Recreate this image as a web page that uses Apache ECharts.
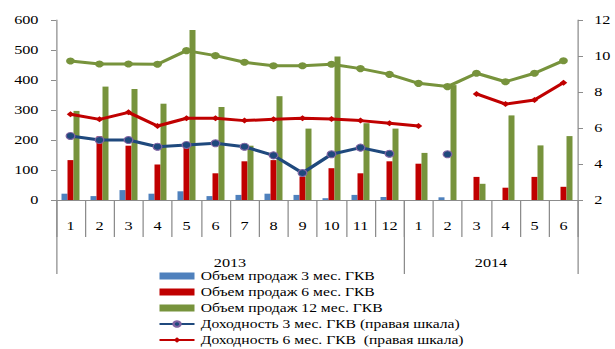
<!DOCTYPE html>
<html>
<head>
<meta charset="utf-8">
<script src="https://cdn.jsdelivr.net/npm/echarts@6/dist/echarts.min.js"></script>
<style>
  html, body { margin: 0; padding: 0; background: #fff; overflow: hidden; }
  /* the chart is laid out narrower and widened horizontally */
  #wrap { width: 615px; height: 349px; overflow: hidden; }
  #chart { width: 492px; height: 349px; transform: scaleX(1.25); transform-origin: 0 0; }
</style>
</head>
<body>
<div id="wrap"><div id="chart"></div></div>
<script>
// Month labels (2013: 1..12, 2014: 1..6)
const months = ['1','2','3','4','5','6','7','8','9','10','11','12','1','2','3','4','5','6'];
const years = ['2013', '2014'];
const yearSpans = [12, 6];

// Sales volume, left scale
const sales3m  = [21, 13, 33, 21, 29, 13, 17, 21, 17, 6, 17, 10, null, 9, null, null, null, null];
const sales6m  = [133, 212, 181, 118, 180, 89, 129, 133, 78, 106, 89, 129, 121, null, 77, 41, 77, 44];
const sales12m = [297, 378, 370, 321, 567, 310, 181, 346, 238, 478, 256, 238, 157, 383, 54, 282, 182, 213];

// Yields, right scale
const yield3m  = [5.56, 5.33, 5.33, 4.96, 5.06, 5.15, 4.96, 4.48, 3.50, 4.54, 4.91, 4.57, null, 4.54, null, null, null, null];
const yield6m  = [6.76, 6.48, 6.87, 6.11, 6.54, 6.54, 6.41, 6.48, 6.54, 6.50, 6.41, 6.26, 6.11, null, 7.89, 7.33, 7.56, 8.52];
const yield12m = [9.72, 9.56, 9.56, 9.54, 10.30, 10.02, 9.65, 9.46, 9.46, 9.54, 9.30, 8.98, 8.48, 8.30, 9.04, 8.57, 9.04, 9.74];

// Left/right scale ticks
const leftTicks = { min: 0, max: 600, step: 100 };
const rightTicks = { min: 2, max: 12, step: 2 };

// Year group boundaries and centres along the month axis
const yearEdges = [0];
yearSpans.forEach(s => yearEdges.push(yearEdges[yearEdges.length - 1] + s));
const yearCentres = yearSpans.map((s, i) => yearEdges[i] + s / 2);

const serif = '"Liberation Serif", "Times New Roman", serif';
const axisGray = '#8c8c8c';

const chart = echarts.init(document.getElementById('chart'), null, { renderer: 'svg' });

chart.setOption({
  animation: false,
  textStyle: { fontFamily: serif, color: '#000' },
  grid: { left: 44.8, right: 29.6, top: 20, bottom: 149, containLabel: false },
  legend: {
    orient: 'vertical',
    left: 126.6,
    top: 269,
    height: 80,
    padding: 0,
    itemWidth: 28,
    itemHeight: 7,
    itemGap: 2,
    textStyle: { fontFamily: serif, fontSize: 12.5, color: '#000', lineHeight: 14 },
    data: [
      { name: 'Объем продаж 3 мес. ГКВ', icon: 'rect' },
      { name: 'Объем продаж 6 мес. ГКВ', icon: 'rect' },
      { name: 'Объем продаж 12 мес. ГКВ', icon: 'rect' },
      { name: 'Доходность 3 мес. ГКВ (правая шкала)' },
      { name: 'Доходность 6 мес. ГКВ  (правая шкала)' }
    ]
  },
  xAxis: [
    {
      type: 'category',
      data: months,
      boundaryGap: true,
      position: 'bottom',
      axisLine: { show: true, lineStyle: { color: axisGray, width: 1 } },
      axisTick: { show: true, interval: 0, length: 37, lineStyle: { color: axisGray } },
      axisLabel: { interval: 0, margin: 19, fontSize: 13, fontFamily: serif, color: '#000' },
      splitLine: { show: false }
    },
    {
      type: 'value',
      min: 0,
      max: yearEdges[yearEdges.length - 1],
      position: 'bottom',
      axisLine: { show: false },
      axisTick: { show: true, length: 74, customValues: yearEdges, lineStyle: { color: axisGray } },
      axisLabel: {
        margin: 56,
        fontSize: 13,
        fontFamily: serif,
        color: '#000',
        customValues: yearCentres,
        formatter: v => years[yearCentres.indexOf(v)] || ''
      },
      splitLine: { show: false }
    }
  ],
  yAxis: [
    {
      type: 'value',
      position: 'left',
      min: leftTicks.min, max: leftTicks.max, interval: leftTicks.step,
      axisLine: { show: true, lineStyle: { color: axisGray } },
      axisTick: { show: true, inside: false, length: 4, lineStyle: { color: axisGray } },
      axisLabel: { margin: 14, fontSize: 13, fontFamily: serif, color: '#000' },
      splitLine: { show: false }
    },
    {
      type: 'value',
      position: 'right',
      min: rightTicks.min, max: rightTicks.max, interval: rightTicks.step,
      axisLine: { show: true, lineStyle: { color: axisGray } },
      axisTick: { show: true, inside: false, length: 4, lineStyle: { color: axisGray } },
      axisLabel: { margin: 13, fontSize: 13, fontFamily: serif, color: '#000' },
      splitLine: { show: false }
    }
  ],
  series: [
    {
      name: 'Объем продаж 3 мес. ГКВ', type: 'bar', data: sales3m,
      xAxisIndex: 0, yAxisIndex: 0, barWidth: 4.8, barGap: '0%',
      itemStyle: { color: '#4f81bd' }
    },
    {
      name: 'Объем продаж 6 мес. ГКВ', type: 'bar', data: sales6m,
      xAxisIndex: 0, yAxisIndex: 0, barWidth: 4.8, barGap: '0%',
      itemStyle: { color: '#c00000' }
    },
    {
      name: 'Объем продаж 12 мес. ГКВ', type: 'bar', data: sales12m,
      xAxisIndex: 0, yAxisIndex: 0, barWidth: 4.8, barGap: '0%',
      itemStyle: { color: '#77933c' }
    },
    {
      name: 'Доходность 12 мес. ГКВ', type: 'line', data: yield12m,
      xAxisIndex: 0, yAxisIndex: 1, z: 3,
      symbol: 'circle', symbolSize: 7, showAllSymbol: true,
      lineStyle: { color: '#77933c', width: 3 },
      itemStyle: { color: '#77933c' }
    },
    {
      name: 'Доходность 6 мес. ГКВ  (правая шкала)', type: 'line', data: yield6m,
      xAxisIndex: 0, yAxisIndex: 1, z: 4, connectNulls: false,
      symbol: 'diamond', symbolSize: 6, showAllSymbol: true,
      lineStyle: { color: '#c00000', width: 3 },
      itemStyle: { color: '#c00000' }
    },
    {
      name: 'Доходность 3 мес. ГКВ (правая шкала)', type: 'line', data: yield3m,
      xAxisIndex: 0, yAxisIndex: 1, z: 5, connectNulls: false,
      symbol: 'circle', symbolSize: 7, showAllSymbol: true,
      lineStyle: { color: '#1f497d', width: 3 },
      itemStyle: { color: '#1f497d', borderColor: '#8064a2', borderWidth: 1 }
    }
  ]
});
</script>
</body>
</html>
